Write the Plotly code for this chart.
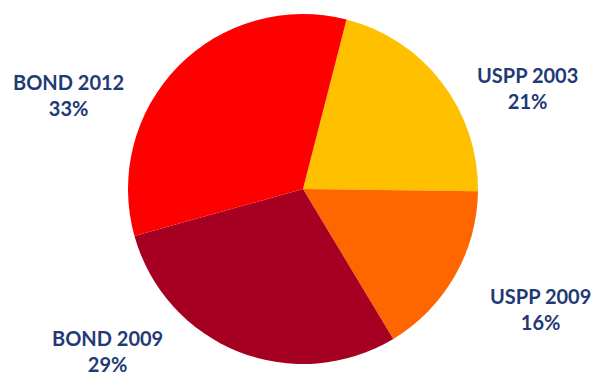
import plotly.graph_objects as go

labels = ["USPP 2003", "USPP 2009", "BOND 2009", "BOND 2012"]
values = [21, 16, 29, 33]
colors = ["#FFC000", "#FF6600", "#A50021", "#FF0000"]

W, H = 595, 377
cx, cy, r = 303, 189, 175

fig = go.Figure(go.Pie(
    labels=labels, values=values, sort=False, direction="clockwise",
    rotation=14.4, textinfo="none", hoverinfo="label+percent",
    marker=dict(colors=colors, line=dict(width=0)),
    domain=dict(x=[(cx - r) / W, (cx + r) / W], y=[1 - (cy + r) / H, 1 - (cy - r) / H]),
    showlegend=False,
))

label_pos = {"USPP 2003": (527, 88), "USPP 2009": (540, 309), "BOND 2009": (107, 351), "BOND 2012": (68, 95)}
for lab, val in zip(labels, values):
    px, py = label_pos[lab]
    fig.add_annotation(x=px / W, y=1 - py / H, xref="paper", yref="paper",
                       text=f"<b>{lab}<br>{val}%</b>", showarrow=False,
                       font=dict(family="Lato", size=20, color="#1F3A75"),
                       align="center", xanchor="center", yanchor="middle")

fig.update_layout(width=W, height=H, margin=dict(l=0, r=0, t=0, b=0),
                  paper_bgcolor="white", plot_bgcolor="white")
fig.write_html("out.html")
